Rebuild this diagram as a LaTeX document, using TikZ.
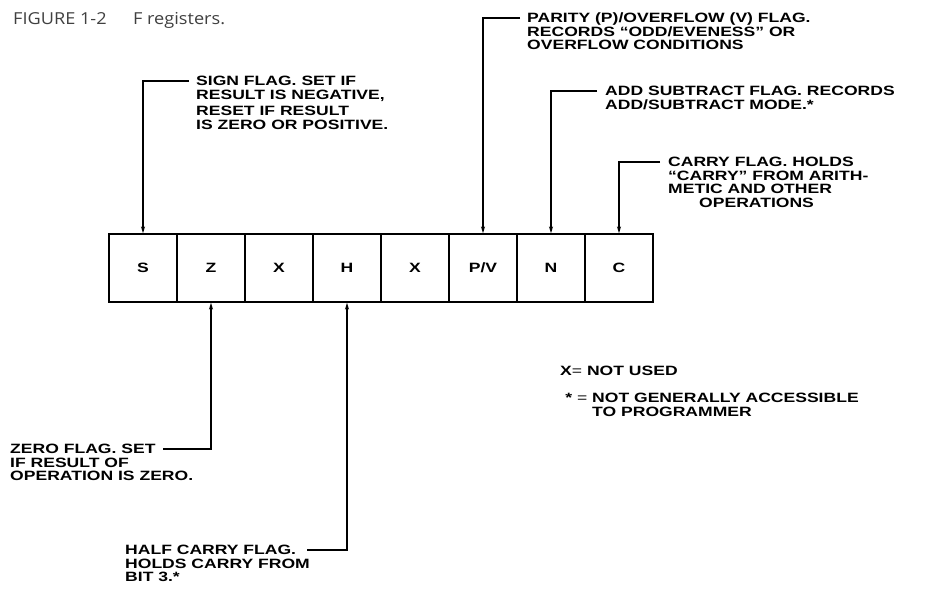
\documentclass[tikz,border=0pt]{standalone}
\usepackage{fontspec}
\usetikzlibrary{arrows.meta}
\newfontfamily\regfont[FakeStretch=1.3]{Liberation Sans}
\newfontfamily\capfont[FakeStretch=1.1]{Open Sans}
\newcommand{\notefont}{\regfont\bfseries\fontsize{13.5}{13.5}\selectfont}

\begin{document}
\begin{tikzpicture}[x=1pt, y=-1pt,
    flagbox/.style={draw, line width=1.3pt, minimum width=68pt, minimum height=68pt, inner sep=0pt, font=\notefont},
    note/.style={anchor=north west, align=left, inner sep=0pt, font=\notefont},
    lead/.style={line width=1.2pt, -{Stealth[length=7pt, width=4pt]}},
  ]
  \useasboundingbox (0,0) rectangle (926,603);
  % caption
  \node (title) at (13,24) [anchor=base west, inner sep=0pt, text=black!75,
    font=\capfont\fontsize{16.5}{18}\selectfont] {FIGURE 1-2\hspace{1.6em}F registers.};
  % the eight bits, bit7 on the left
  \foreach \txt [count=\i from 0, evaluate=\i as \b using int(7-\i)] in {S, Z, X, H, X, P/V, N, C}
    \node[flagbox] (bit\b) at (143+68*\i, 268) {\txt};

  % notes above
  \node[note] (sign) at (196,76) {SIGN FLAG. SET IF\\RESULT IS NEGATIVE,\\[3pt]RESET IF RESULT\\IS ZERO OR POSITIVE.};
  \node[note] (parity) at (527,13) {PARITY (P)/OVERFLOW (V) FLAG.\\RECORDS “ODD/EVENESS” OR\\OVERFLOW CONDITIONS};
  \node[note] (addsub) at (605,86) {ADD SUBTRACT FLAG. RECORDS\\ADD/SUBTRACT MODE.*};
  \node[note] (carry) at (668,157) {CARRY FLAG. HOLDS\\“CARRY” FROM ARITH-\\METIC AND OTHER\\\hspace*{31pt}OPERATIONS};
  % notes below
  \node[note] (zero) at (10,444) {ZERO FLAG. SET\\IF RESULT OF\\OPERATION IS ZERO.};
  \node[note] (half) at (125,545) {HALF CARRY FLAG.\\HOLDS CARRY FROM\\BIT 3.*};
  % key
  \node[note] (unused) at (560,366) {X{\mdseries=} NOT USED};
  \node[note] (hidden) at (592,393) {\llap{* {\mdseries=} }NOT GENERALLY ACCESSIBLE\\TO PROGRAMMER};

  % leader lines
  \coordinate (signend) at (189,81);
  \coordinate (parityend) at (520,18);
  \coordinate (addsubend) at (597,91);
  \coordinate (carryend) at (660,162);
  \coordinate (zeroend) at (163,449);
  \coordinate (halfend) at (307,550);
  \draw[lead] (signend) -| (bit7.north);
  \draw[lead] (parityend) -| (bit2.north);
  \draw[lead] (addsubend) -| (bit1.north);
  \draw[lead] (carryend) -| (bit0.north);
  \draw[lead] (zeroend) -| (bit6.south);
  \draw[lead] (halfend) -| (bit4.south);
\end{tikzpicture}
\end{document}
